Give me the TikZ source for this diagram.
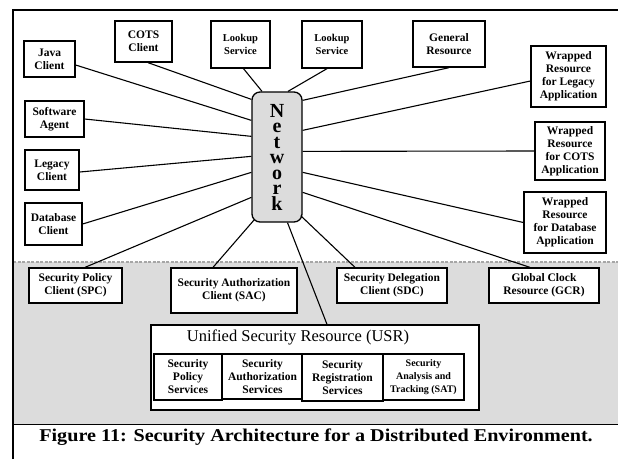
\documentclass[tikz,border=0pt]{standalone}
\usepackage{fontspec}
\setmainfont{Liberation Serif}
\usepackage{tikz}
\usetikzlibrary{calc}

\definecolor{panel}{HTML}{DCDCDC}

\begin{document}
\begin{tikzpicture}[
            x=1pt, y=-1pt,
            box/.style={draw, line width=1.3pt, fill=white, align=center, inner sep=1pt,
                        font=\bfseries\fontsize{11.5}{13}\selectfont}, % Plain white box
            smallbox/.style={box, font=\bfseries\fontsize{10.5}{13}\selectfont},
            netbox/.style={draw, line width=1.3pt, fill=panel, rounded corners=8pt, align=center,
                        minimum width=50, minimum height=130, font=\bfseries\fontsize{20}{15.5}\selectfont},
            link/.style={line width=1.1pt} % Line to the network
            ]

        \useasboundingbox (0,0) rectangle (618,459);

        % Grey band for the security part, with its frame
        \fill[panel] (13,262) rectangle (618,424);
        \draw[gray!70, line width=1.5pt, dash pattern=on 3pt off 1.5pt] (13,262) -- (618,262);
        \draw[line width=1pt] (13,424) -- (618,424);
        \draw[line width=1.5pt] (13,459) -- (13,10) -- (618,10);

        % Network in the middle
        \node[netbox] (net) at (277,157) {N\\e\\t\\w\\o\\r\\k};

        % Clients and services round the network
        \node[box, minimum width=51, minimum height=36] (java) at (49.5,59) {Java\\Client};
        \node[box, minimum width=57, minimum height=41] (cots) at (143.5,41.5) {COTS\\Client};
        \node[smallbox, minimum width=59, minimum height=47] (lookA) at (240.5,44.5) {Lookup\\Service};
        \node[smallbox, minimum width=60, minimum height=47] (lookB) at (332,44.5) {Lookup\\Service};
        \node[box, minimum width=72, minimum height=46] (general) at (449,44) {General\\Resource};
        \node[box, minimum width=59, minimum height=36] (agent) at (54.5,119) {Software\\Agent};
        \node[box, minimum width=54, minimum height=40] (legacy) at (52,170) {Legacy\\Client};
        \node[box, minimum width=57, minimum height=42] (dbclient) at (53.5,224) {Database\\Client};
        \node[box, minimum width=75, minimum height=61] (wrapLeg) at (568.5,76.5) {Wrapped\\Resource\\for Legacy\\Application};
        \node[box, minimum width=70, minimum height=58] (wrapCots) at (570,151) {Wrapped\\Resource\\for COTS\\Application};
        \node[box, minimum width=82, minimum height=61] (wrapDb) at (565,222.5) {Wrapped\\Resource\\for Database\\Application};

        % Security clients in the grey band
        \node[box, minimum width=93, minimum height=35] (spc) at (75.5,285.5) {Security Policy\\Client (SPC)};
        \node[box, minimum width=126, minimum height=45] (sac) at (234,290.5) {Security Authorization\\Client (SAC)};
        \node[box, minimum width=110, minimum height=35] (sdc) at (392,285.5) {Security Delegation\\Client (SDC)};
        \node[box, minimum width=110, minimum height=35] (gcr) at (544,285.5) {Global Clock\\Resource (GCR)};

        % Unified security resource and its services
        \node[draw, line width=1.3pt, fill=white, minimum width=328, minimum height=85] (usr) at (315,367.5) {};
        \node[font=\fontsize{16.5}{19}\selectfont] (usrtitle) at (298,337) {Unified Security Resource (USR)};
        \node[box, minimum width=68, minimum height=46] (polsvc) at (188,377) {Security\\Policy\\Services};
        \node[box, minimum width=81, minimum height=45] (authsvc) at (262.5,376.5) {Security\\Authorization\\Services};
        \node[box, minimum width=81, minimum height=47] (regsvc) at (342.5,377.5) {Security\\Registration\\Services};
        \node[box, minimum width=81, minimum height=46, font=\bfseries\fontsize{10}{13}\selectfont] (satsvc) at (423.5,377) {Security\\Analysis and\\Tracking (SAT)};

        % Lines into the network
        \draw[link] ($(cots.south)+(4.5,0)$) -- ($(net.north west)+(0,8)$);
        \draw[link] ($(java.east)+(0,6)$) -- ($(net.north west)+(0,29)$);
        \draw[link] (agent.east) -- ($(net.north west)+(0,45)$);
        \draw[link] ($(legacy.east)+(0,2)$) -- ($(net.north west)+(0,65)$);
        \draw[link] (dbclient.east) -- ($(net.north west)+(0,81)$);
        \draw[link] ($(spc.north)+(9.5,0)$) -- ($(net.north west)+(0,106)$);
        \draw[link] ($(sac.north)+(-21,0)$) -- ($(net.south west)+(3,-3)$);
        \draw[link] ($(usr.north)+(12,0)$) -- ($(net.south)+(10.5,0)$);
        \draw[link] ($(sdc.north)+(-37,0)$) -- ($(net.south east)+(-2,-7)$);
        \draw[link] ($(lookA.south)+(3,0)$) -- ($(net.north)+(-15,0)$);
        \draw[link] ($(lookB.south)+(-5,0)$) -- ($(net.north)+(11,0)$);
        \draw[link] (general.south) -- ($(net.north east)+(0,9)$);
        \draw[link] ($(wrapLeg.west)+(0,4.5)$) -- ($(net.north east)+(0,39)$);
        \draw[link] (wrapCots.west) -- ($(net.north east)+(0,60)$);
        \draw[link] (wrapDb.west) -- ($(net.north east)+(0,81)$);
        \draw[link] ($(gcr.north)+(-14,0)$) -- ($(net.north east)+(0,101)$);

        % Caption
        \node[font=\bfseries\fontsize{18}{21}\selectfont\addfontfeature{FakeStretch=1.12}] (caption) at (316,437)
            {Figure 11: Security Architecture for a Distributed Environment.};

\end{tikzpicture}
\end{document}
